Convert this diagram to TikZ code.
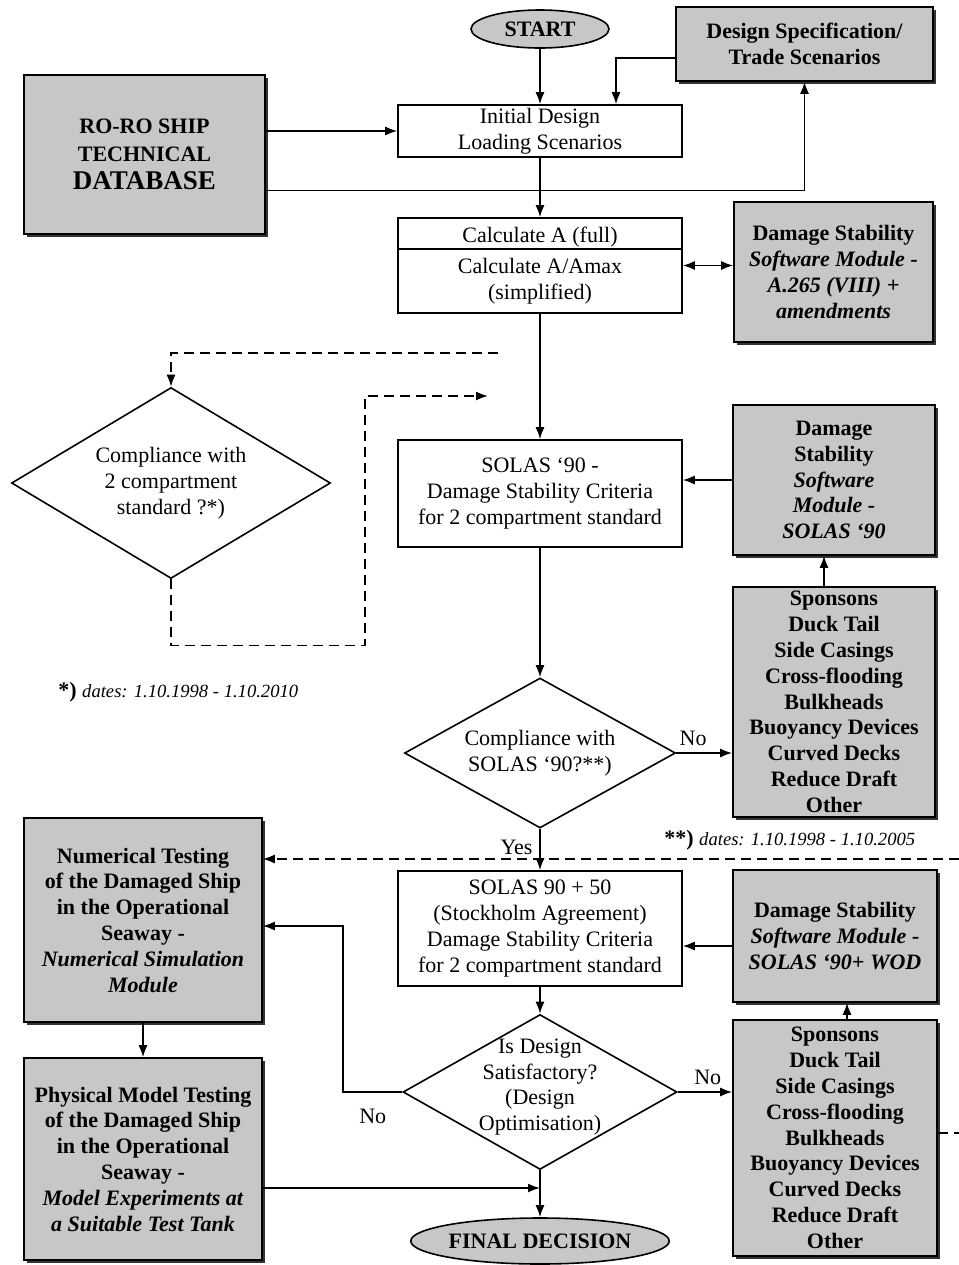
\documentclass[tikz,border=0pt]{standalone}
\usepackage{fontspec}
\setmainfont{Liberation Serif}
\usetikzlibrary{shapes.geometric, arrows.meta, positioning, shadows}

\begin{document}
\begin{tikzpicture}[
  x=0.5pt, y=-0.5pt,
  font=\fontsize{11}{12.9}\selectfont,
  plain/.style={rectangle, draw=black, fill=white, thick, align=center, inner sep=1pt, minimum width=142pt},
  module/.style={rectangle, draw=black, fill=black!22, thick, align=center, inner sep=1pt, font=\fontsize{11}{12.9}\selectfont\bfseries, drop shadow={shadow xshift=1.3pt, shadow yshift=-1.3pt, fill=black!80, opacity=1}},
  terminal/.style={ellipse, draw=black, fill=black!22, thick, inner sep=0pt, font=\fontsize{11}{12.9}\selectfont\bfseries},
  decision/.style={diamond, draw=black, fill=white, thick, inner sep=0pt},
  arrow/.style={thick, -{Latex[length=6pt, width=4.5pt]}},
  twoway/.style={thick, {Latex[length=6pt, width=4.5pt]}-{Latex[length=6pt, width=4.5pt]}},
  dashline/.style={thick, dash pattern=on 5pt off 3pt},
  dasharrow/.style={dashline, -{Latex[length=6pt, width=4.5pt]}},
  note/.style={inner sep=0pt, anchor=west}
]
\path [use as bounding box, fill=white] (0,0) rectangle (959,1265);

% top part
\node (start) [terminal, minimum width=69pt, minimum height=19pt] at (540,29) {START};
\node (desspec) [module, minimum width=128.5pt, minimum height=37pt] at (804.5,44) {Design Specification/\\Trade Scenarios};
\node (roro) [module, minimum width=120.5pt, minimum height=79.5pt, font=\fontsize{11}{14}\selectfont\bfseries] at (144.5,154.5) {RO-RO SHIP\\TECHNICAL\\{\fontsize{13.5}{14}\selectfont DATABASE}};
\node (init) [plain, minimum height=26pt] at (540,131) {Initial Design\\Loading Scenarios};
\node (calc) [plain, minimum height=47.5pt] at (540,265.5) {Calculate A (full)\\[3pt]Calculate A/Amax\\(simplified)};
\node (dsa) [module, minimum width=99.5pt, minimum height=70pt] at (833.5,272) {Damage Stability\\\textit{Software Module -}\\\textit{A.265 (VIII) +}\\\textit{amendments}};

% SOLAS 90
\node (sol90) [plain, minimum height=53.5pt] at (540,493.5) {SOLAS ‘90 -\\Damage Stability Criteria\\for 2 compartment standard};
\node (ds90) [module, minimum width=101pt, minimum height=75pt] at (834,480) {Damage\\Stability\\\textit{Software}\\\textit{Module -}\\\textit{SOLAS ‘90}};
\node (spon1) [module, minimum width=101pt, minimum height=115pt] at (834,702) {Sponsons\\Duck Tail\\Side Casings\\Cross-flooding\\Bulkheads\\Buoyancy Devices\\Curved Decks\\Reduce Draft\\Other};
\node (comp2) [decision, minimum width=159.5pt, minimum height=95.5pt] at (171,483) {};
\node (comp2txt) [align=center] at (comp2) {Compliance with\\2 compartment\\standard ?*)};
\node (comp1) [decision, minimum width=135.5pt, minimum height=75pt] at (540,753) {};
\node (comp1txt) [align=center] at (comp1) {Compliance with\\SOLAS ‘90?**)};
\node (note1) [note] at (58,692) {\textbf{*)} {\fontsize{9.3}{11}\selectfont\itshape dates: 1.10.1998 - 1.10.2010}};
\node (note2) [note] at (664,840) {\textbf{**)} {\fontsize{9.3}{11}\selectfont\itshape dates: 1.10.1998 - 1.10.2005}};

% SOLAS 90 + 50
\node (sol50) [plain, minimum height=57.5pt] at (540,928.5) {SOLAS 90 + 50\\(Stockholm Agreement)\\Damage Stability Criteria\\for 2 compartment standard};
\node (dswod) [module, minimum width=102pt, minimum height=66pt] at (835,936) {Damage Stability\\\textit{Software Module -}\\\textit{SOLAS ‘90+ WOD}};
\node (spon2) [module, minimum width=102pt, minimum height=118pt] at (835,1138) {Sponsons\\Duck Tail\\Side Casings\\Cross-flooding\\Bulkheads\\Buoyancy Devices\\Curved Decks\\Reduce Draft\\Other};
\node (design) [decision, minimum width=137pt, minimum height=77.5pt] at (540,1092) {};
\node (designtxt) [align=center] at ([yshift=2.5pt]design) {Is Design\\Satisfactory?\\(Design\\Optimisation)};
\node (numer) [module, minimum width=119pt, minimum height=102pt] at (143,920) {Numerical Testing\\of the Damaged Ship\\in the Operational\\Seaway -\\\textit{Numerical Simulation}\\\textit{Module}};
\node (phys) [module, minimum width=119pt, minimum height=101pt] at (143,1159) {Physical Model Testing\\of the Damaged Ship\\in the Operational\\Seaway -\\\textit{Model Experiments at}\\\textit{a Suitable Test Tank}};
\node (final) [terminal, minimum width=113.5pt, minimum height=23pt] at (540,1241) {FINAL DECISION};

% free ends of the dashed lines
\coordinate (topin) at (498,353);
\coordinate (leftout) at (488,396);
\coordinate (rightin) at (959,859);
\coordinate (rightout) at (959,1133);
\coordinate (wodout) at ([yshift=-5pt]dswod.west);
\coordinate (physout) at ([yshift=-14.5pt]phys.east);

\draw [thick] ([yshift=-16pt]calc.north west) -- ([yshift=-16pt]calc.north east);

\draw [arrow] (start.south) -- (init.north);
\draw [arrow] ([yshift=-7pt]desspec.west) -| ([xshift=38pt]init.north);
\draw [arrow] (init.west -| roro.east) -- (init.west);
\draw [arrow] ([yshift=-18pt]roro.east) -| (desspec.south);
\draw [arrow] (init.south) -- (calc.north);
\draw [twoway] (calc.east) -- (calc.east -| dsa.west);
\draw [arrow] (calc.south) -- (sol90.north);
\draw [arrow] (ds90.west) -- (ds90.west -| sol90.east);
\draw [arrow] ([xshift=-5pt]spon1.north) -- ([xshift=-5pt]ds90.south);
\draw [arrow] (sol90.south) -- (comp1.north);
\draw [arrow] (comp1.east) -- (comp1.east -| spon1.west) node [pos=0.3, above] {No};
\draw [arrow] (comp1.south) -- (sol50.north) node [pos=0.45, left] {Yes};
\draw [arrow] (sol50.south) -- (design.north);
\draw [arrow] (wodout) -- (wodout -| sol50.east);
\draw [arrow] ([xshift=6pt]spon2.north) -- ([xshift=6pt]dswod.south);
\draw [arrow] (design.east) -- (design.east -| spon2.west) node [pos=0.55, above] {No};
\draw [arrow] (design.west) -- ++(-59,0) node [midway, below=5pt] {No} |- ([yshift=-3pt]numer.east);
\draw [arrow] (numer.south) -- (phys.north);
\draw [arrow] (physout) -- (physout -| design.south);
\draw [arrow] (design.south) -- (final.north);

% dashed loops
\draw [dasharrow] (topin) -| (comp2.north);
\draw [dasharrow] (comp2.south) -- ++(0,66) -- ++(194,0) |- (leftout);
\draw [dasharrow] (rightin) -- (rightin -| numer.east);
\draw [dashline] ([yshift=2.5pt]spon2.east) -- (rightout);
\end{tikzpicture}
\end{document}
